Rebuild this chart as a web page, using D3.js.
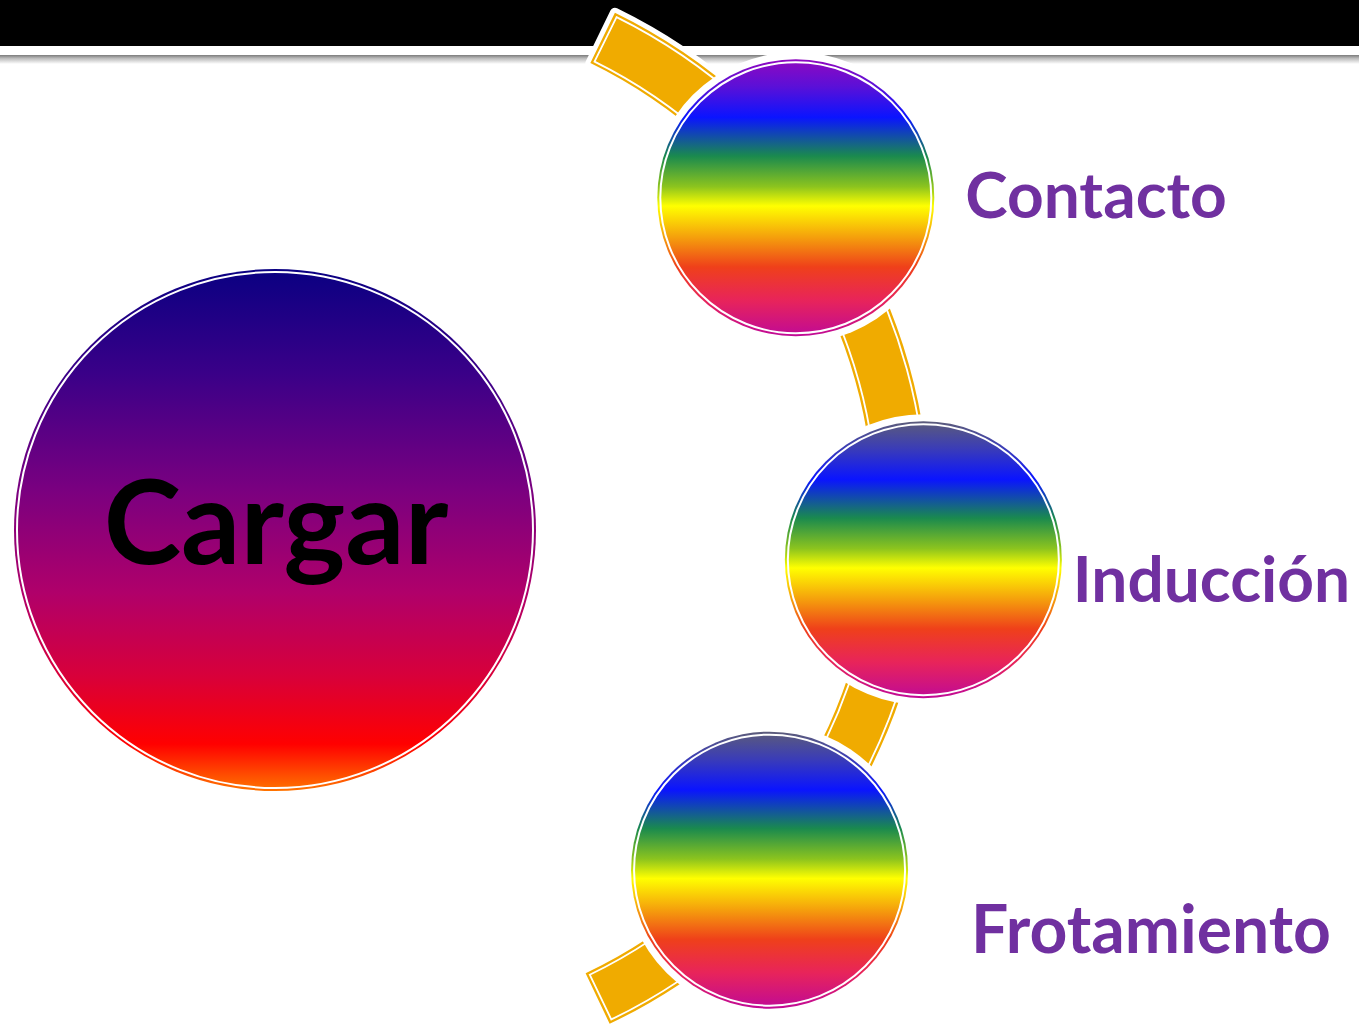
<!DOCTYPE html>
<html>
<head>
<meta charset="utf-8">
<script src="https://cdn.jsdelivr.net/npm/d3@7"></script>
<style>
  body { margin: 0; background: #fff; }
  svg { display: block; }
</style>
</head>
<body>
<script>
// data
const title = "Cargar";
const methods = ["Contacto", "Inducción", "Frotamiento"];

const W = 1359, H = 1025;
const orange = "#f0ab00";
const purple = "#7030a0";

const svg = d3.select("body").append("svg")
  .attr("width", W)
  .attr("height", H);

const defs = svg.append("defs");

// gradients
function vgrad(id, stops) {
  const g = defs.append("linearGradient").attr("id", id)
    .attr("x1", 0).attr("y1", 0).attr("x2", 0).attr("y2", 1);
  g.selectAll("stop").data(stops).enter().append("stop")
    .attr("offset", d => d[0])
    .attr("stop-color", d => d[1]);
}
vgrad("bigGrad", [[0, "#0a0082"], [0.2, "#3a0088"], [0.42, "#790080"], [0.62, "#b0006a"], [0.78, "#d8003a"], [0.91, "#ff0000"], [1, "#ff7400"]]);
const rainbowTail = [[0.21, "#0a14ff"], [0.35, "#1a8a4e"], [0.46, "#8cc41e"], [0.53, "#ffff00"], [0.64, "#f5a20c"], [0.75, "#ef401a"], [0.87, "#e8245a"], [1, "#c00a96"]];
vgrad("rainbow0", [[0, "#9008c0"], [0.1, "#5a10d8"], ...rainbowTail]);
vgrad("rainbowN", [[0, "#5c5c7a"], [0.1, "#3a3cb8"], ...rainbowTail]);
vgrad("shadow", [[0, "#7a7a7a"], [0.35, "#b8b8b8"], [1, "#ffffff"]]);

// header bar
svg.append("rect").attr("x", 0).attr("y", 0).attr("width", W).attr("height", 46).attr("fill", "#000");
svg.append("rect").attr("x", 0).attr("y", 55).attr("width", W).attr("height", 9).attr("fill", "url(#shadow)");

//=====
// curved band
//=====
const band = { cx: 369, cy: 517, r: 533, half: 28, a0: 26, a1: 154.6 };
const rad = d => d * Math.PI / 180;
const bandG = svg.append("g").attr("transform", `translate(${band.cx},${band.cy})`);

const outerArc = d3.arc()
  .innerRadius(band.r - band.half)
  .outerRadius(band.r + band.half)
  .startAngle(rad(band.a0))
  .endAngle(rad(band.a1));

bandG.append("path").attr("d", outerArc()).attr("fill", "#fff").attr("stroke", "#fff").attr("stroke-width", 10).attr("stroke-linejoin", "round");
bandG.append("path").attr("d", outerArc()).attr("fill", orange);

const inset = 3.2 / band.r;
const innerArc = d3.arc()
  .innerRadius(band.r - band.half + 3.2)
  .outerRadius(band.r + band.half - 3.2)
  .startAngle(rad(band.a0) + inset)
  .endAngle(rad(band.a1) - inset);
bandG.append("path").attr("d", innerArc()).attr("fill", "none").attr("stroke", "#fff").attr("stroke-width", 1.8);

//=====
// big circle
//=====
const big = { x: 275, y: 530, r: 261 };
svg.append("circle").attr("cx", big.x).attr("cy", big.y).attr("r", big.r).attr("fill", "url(#bigGrad)");
svg.append("circle").attr("cx", big.x).attr("cy", big.y).attr("r", big.r - 3).attr("fill", "none").attr("stroke", "#fff").attr("stroke-width", 2);
svg.append("text")
  .attr("x", big.x + 1)
  .attr("y", 564)
  .attr("text-anchor", "middle")
  .attr("font-family", "Lato, 'Open Sans', sans-serif")
  .attr("font-weight", 700)
  .attr("font-size", 117)
  .attr("fill", "#000")
  .text(title);

//=====
// method circles along the band
//=====
const angle = d3.scaleLinear().domain([0, 1, 2]).range([53.2, 94.4, 131.4]);
const dist = d3.scaleLinear().domain([0, 1, 2]).range([533, 556, 534]);
const nodeR = 138.5;
const labelDx = [31, 11, 63];
const labelDy = [20, 42, 83];
const labelSize = [64, 64, 66];

const nodes = methods.map((m, i) => ({
  name: m,
  i: i,
  x: band.cx + dist(i) * Math.sin(rad(angle(i))),
  y: band.cy - dist(i) * Math.cos(rad(angle(i)))
}));

const node = svg.selectAll(".node")
  .data(nodes)
  .enter()
  .append("g")
  .attr("class", "node")
  .attr("transform", d => `translate(${d.x},${d.y})`);

node.append("circle").attr("r", nodeR + 7).attr("fill", "#fff");
node.append("circle").attr("r", nodeR).attr("fill", d => d.i === 0 ? "url(#rainbow0)" : "url(#rainbowN)");
node.append("circle").attr("r", nodeR - 3).attr("fill", "none").attr("stroke", "#fff").attr("stroke-width", 2);

node.append("text")
  .attr("x", d => nodeR + labelDx[d.i])
  .attr("y", d => labelDy[d.i])
  .attr("font-family", "Lato, 'Open Sans', sans-serif")
  .attr("font-weight", 700)
  .attr("font-size", d => labelSize[d.i])
  .attr("fill", purple)
  .text(d => d.name);
</script>
</body>
</html>
